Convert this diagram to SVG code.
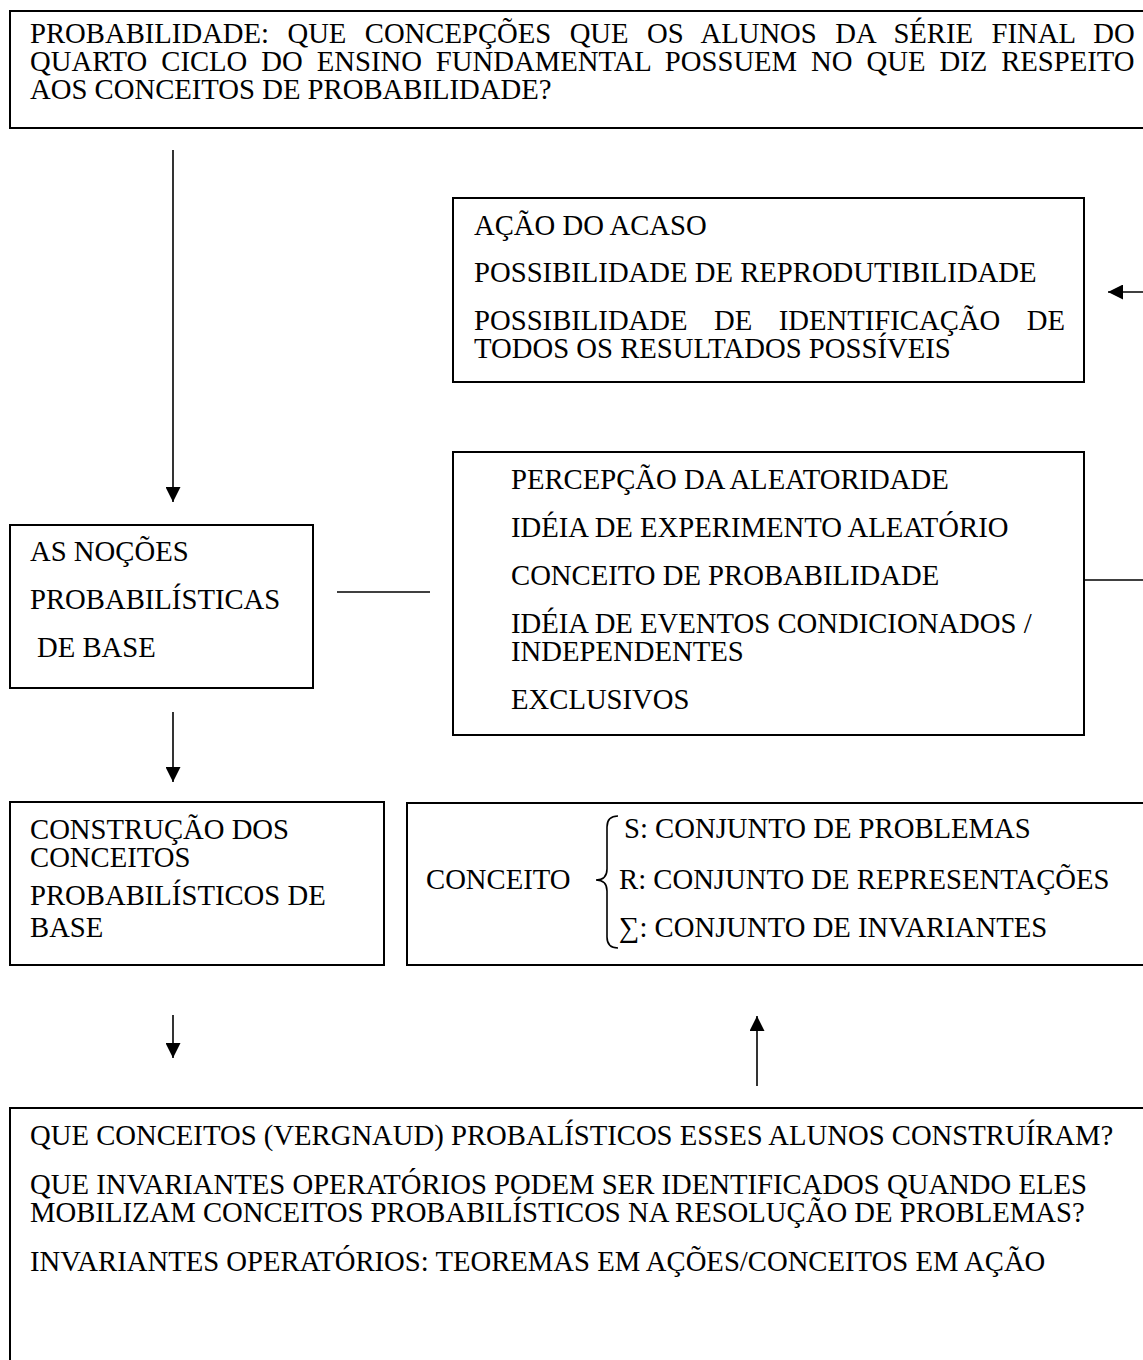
<svg xmlns="http://www.w3.org/2000/svg" width="1143" height="1360" viewBox="0 0 1143 1360">
<style>
.box{fill:#fff;stroke:#000;stroke-width:2}
.t{font-family:"Liberation Serif","Times New Roman",serif;font-size:28.7px;fill:#000}
.c{stroke:#000;stroke-width:1.6;fill:none}
</style>
<defs>
<marker id="ah" markerUnits="userSpaceOnUse" markerWidth="16" markerHeight="15" refX="15" refY="7.5" orient="auto">
<path d="M0,0 L15,7.5 L0,15 Z" fill="#000"/>
</marker>
</defs>
<rect width="1143" height="1360" fill="#fff"/>
<g id="node-question">
<rect class="box" x="10" y="11" width="1150" height="117"/>
<text class="t" x="30" y="43" word-spacing="11.2">PROBABILIDADE: QUE CONCEPÇÕES QUE OS ALUNOS DA SÉRIE FINAL DO</text>
<text class="t" x="30" y="71" word-spacing="6.8">QUARTO CICLO DO ENSINO FUNDAMENTAL POSSUEM NO QUE DIZ RESPEITO</text>
<text class="t" x="30" y="99">AOS CONCEITOS DE PROBABILIDADE?</text>
</g>
<g id="node-acaso">
<rect class="box" x="453" y="198" width="631" height="184"/>
<text class="t" x="474" y="235">AÇÃO DO ACASO</text>
<text class="t" x="474" y="282">POSSIBILIDADE DE REPRODUTIBILIDADE</text>
<text class="t" x="474" y="330" word-spacing="19.3">POSSIBILIDADE DE IDENTIFICAÇÃO DE</text>
<text class="t" x="474" y="358">TODOS OS RESULTADOS POSSÍVEIS</text>
</g>
<g id="node-percepcao">
<rect class="box" x="453" y="452" width="631" height="283"/>
<text class="t" x="511" y="489">PERCEPÇÃO DA ALEATORIDADE</text>
<text class="t" x="511" y="537">IDÉIA DE EXPERIMENTO ALEATÓRIO</text>
<text class="t" x="511" y="585">CONCEITO DE PROBABILIDADE</text>
<text class="t" x="511" y="633">IDÉIA DE EVENTOS CONDICIONADOS /</text>
<text class="t" x="511" y="661">INDEPENDENTES</text>
<text class="t" x="511" y="709">EXCLUSIVOS</text>
</g>
<g id="node-nocoes">
<rect class="box" x="10" y="525" width="303" height="163"/>
<text class="t" x="30" y="561">AS NOÇÕES</text>
<text class="t" x="30" y="609">PROBABILÍSTICAS</text>
<text class="t" x="37" y="657">DE BASE</text>
</g>
<g id="node-construcao">
<rect class="box" x="10" y="802" width="374" height="163"/>
<text class="t" x="30" y="839">CONSTRUÇÃO DOS</text>
<text class="t" x="30" y="867">CONCEITOS</text>
<text class="t" x="30" y="905">PROBABILÍSTICOS DE</text>
<text class="t" x="30" y="937">BASE</text>
</g>
<g id="node-conceito">
<rect class="box" x="407" y="803" width="760" height="162"/>
<text class="t" x="426" y="889">CONCEITO</text>
<path class="c" d="M618,816 Q607,816 607,827 L607,869 Q607,880 596,880 Q607,880 607,891 L607,937 Q607,948 618,948"/>
<text class="t" x="624" y="838">S: CONJUNTO DE PROBLEMAS</text>
<text class="t" x="619" y="889">R: CONJUNTO DE REPRESENTAÇÕES</text>
<text class="t" x="619" y="937">∑: CONJUNTO DE INVARIANTES</text>
</g>
<g id="node-vergnaud">
<rect class="box" x="10" y="1108" width="1160" height="300"/>
<text class="t" x="30" y="1145">QUE CONCEITOS (VERGNAUD) PROBALÍSTICOS ESSES ALUNOS CONSTRUÍRAM?</text>
<text class="t" x="30" y="1194">QUE INVARIANTES OPERATÓRIOS PODEM SER IDENTIFICADOS QUANDO ELES</text>
<text class="t" x="30" y="1222">MOBILIZAM CONCEITOS PROBABILÍSTICOS NA RESOLUÇÃO DE PROBLEMAS?</text>
<text class="t" x="30" y="1271">INVARIANTES OPERATÓRIOS: TEOREMAS EM AÇÕES/CONCEITOS EM AÇÃO</text>
</g>
<g id="connectors">
<line class="c" x1="173" y1="150" x2="173" y2="502" marker-end="url(#ah)"/>
<line class="c" x1="337" y1="592" x2="430" y2="592"/>
<line class="c" x1="173" y1="712" x2="173" y2="782" marker-end="url(#ah)"/>
<line class="c" x1="1084" y1="580" x2="1150" y2="580"/>
<line class="c" x1="1150" y1="292" x2="1108" y2="292" marker-end="url(#ah)"/>
<line class="c" x1="173" y1="1015" x2="173" y2="1058" marker-end="url(#ah)"/>
<line class="c" x1="757" y1="1086" x2="757" y2="1016" marker-end="url(#ah)"/>
</g>
</svg>
